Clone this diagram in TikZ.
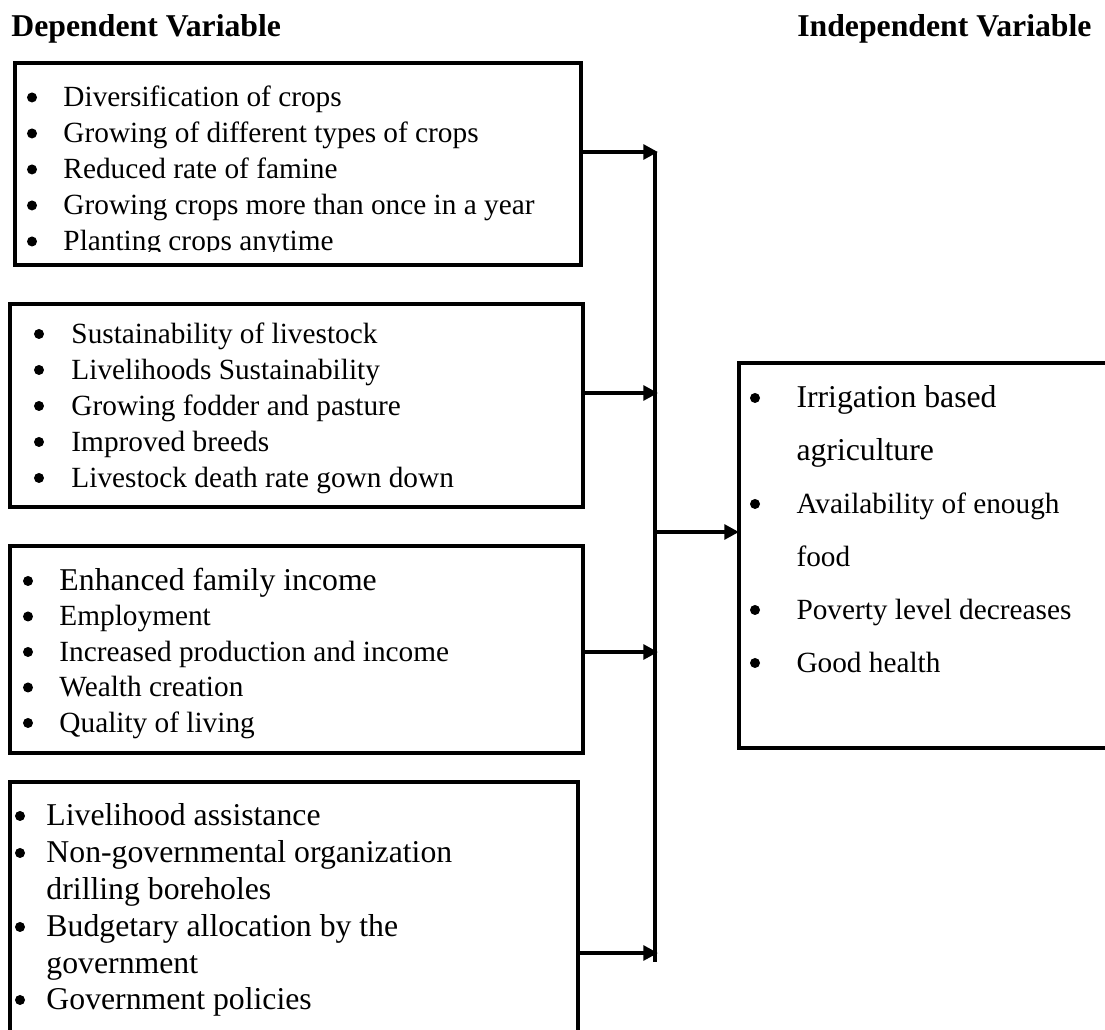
\documentclass[tikz,border=0pt]{standalone}
\usepackage{fontspec}
\setmainfont{Liberation Serif}
\usetikzlibrary{arrows.meta,fit}
\begin{document}
\begin{tikzpicture}[x=0.4096pt,y=-0.4096pt,
  box/.style={draw, line width=1.6pt, inner sep=0pt, outer sep=0pt},
  conn/.style={line width=1.6pt},
  arr/.style={line width=1.6pt, -{Triangle[length=6pt,width=6pt]}},
  txt/.style={anchor=base west, inner sep=0pt, font=\fontsize{12}{14}\selectfont},
  bigtxt/.style={anchor=base west, inner sep=0pt, font=\fontsize{13}{15}\selectfont},
  bul/.style={circle, draw=none, fill=black, inner sep=0pt, minimum size=4.1pt, yshift=3.7pt},
  ttl/.style={inner sep=0pt, font=\fontsize{13}{15}\selectfont\bfseries}]
\useasboundingbox (0,0) rectangle (1105,1029);
\clip (0,0) rectangle (1105,1029);

% titles
\node[ttl, anchor=base west] (tdep) at (11,37) {Dependent Variable};
\node[ttl, anchor=base east] (tind) at (1092,37) {Independent Variable};

% boxes
\coordinate (b1nw) at (15,63);  \coordinate (b1se) at (581,265);
\coordinate (b2nw) at (10,304); \coordinate (b2se) at (583,507);
\coordinate (b3nw) at (10,546); \coordinate (b3se) at (583,753);
\coordinate (b4nw) at (10,782); \coordinate (b4se) at (578,1060);
\coordinate (rbnw) at (739,363); \coordinate (rbse) at (1120,748);
\node[box, fit=(b1nw)(b1se)] (b1) {};
\node[box, fit=(b2nw)(b2se)] (b2) {};
\node[box, fit=(b3nw)(b3se)] (b3) {};
\node[box, fit=(b4nw)(b4se)] (b4) {};
\node[box, fit=(rbnw)(rbse)] (rb) {};

% box 1 text (clipped at the bottom)
\begin{scope}
\clip (15,66) rectangle (578,251.5);
\foreach \t [count=\i] in {Diversification of crops,Growing of different types of crops,Reduced rate of famine,Growing crops more than once in a year,Planting crops anytime}{
  \node[bul] (b1b\i) at (32,{106.5+36*(\i-1)}) {};
  \node[txt] (b1t\i) at (63,{106.5+36*(\i-1)}) {\t};
}
\end{scope}

% box 2 text
\foreach \t [count=\i] in {Sustainability of livestock,Livelihoods Sustainability,Growing fodder and pasture,Improved breeds,Livestock death rate gown down}{
  \node[bul] (b2b\i) at (39,{343+36*(\i-1)}) {};
  \node[txt] (b2t\i) at (71,{343+36*(\i-1)}) {\t};
}

% box 3 text
\node[bul] (b3b1) at (28,590) {};
\node[bigtxt] (b3t1) at (59,590) {Enhanced family income};
\foreach \t [count=\i from 2] in {Employment,Increased production and income,Wealth creation,Quality of living}{
  \node[bul] (b3b\i) at (28,{590+35.5*(\i-1)}) {};
  \node[txt] (b3t\i) at (59,{590+35.5*(\i-1)}) {\t};
}

% box 4 text
\node[bul] (b4b1) at (20,825) {};
\node[bigtxt] (b4t1) at (46,825) {Livelihood assistance};
\node[bul] (b4b2) at (20,862) {};
\node[bigtxt] (b4t2) at (46,862) {Non-governmental organization};
\node[bigtxt] (b4t3) at (46,899) {drilling boreholes};
\node[bul] (b4b4) at (20,936) {};
\node[bigtxt] (b4t4) at (46,936) {Budgetary allocation by the};
\node[bigtxt] (b4t5) at (46,973) {government};
\node[bul] (b4b6) at (20,1009) {};
\node[bigtxt] (b4t6) at (46,1009) {Government policies};

% right box text
\node[bul] (rbb1) at (755,407) {};
\node[bigtxt] (rbt1) at (796,407) {Irrigation based};
\node[bigtxt] (rbt2) at (796,460) {agriculture};
\node[bul] (rbb3) at (755,513) {};
\node[txt] (rbt3) at (796,513) {Availability of enough};
\node[txt] (rbt4) at (796,566) {food};
\node[bul] (rbb5) at (755,619) {};
\node[txt] (rbt5) at (796,619) {Poverty level decreases};
\node[bul] (rbb6) at (755,672) {};
\node[txt] (rbt6) at (796,672) {Good health};

% bus and arrows
\coordinate (bustop) at (655,152);
\coordinate (busbot) at (655,962);
\draw[conn] (bustop) -- (busbot);
\coordinate (j1) at (658,152);
\coordinate (j2) at (658,393);
\coordinate (j3) at (658,652);
\coordinate (j4) at (658,953);
\draw[arr] (b1.east |- j1) -- (j1);
\draw[arr] (b2.east |- j2) -- (j2);
\draw[arr] (b3.east |- j3) -- (j3);
\draw[arr] (b4.east |- j4) -- (j4);
\coordinate (m) at (657,532);
\draw[arr] (m) -- (rb.west |- m);
\end{tikzpicture}
\end{document}
